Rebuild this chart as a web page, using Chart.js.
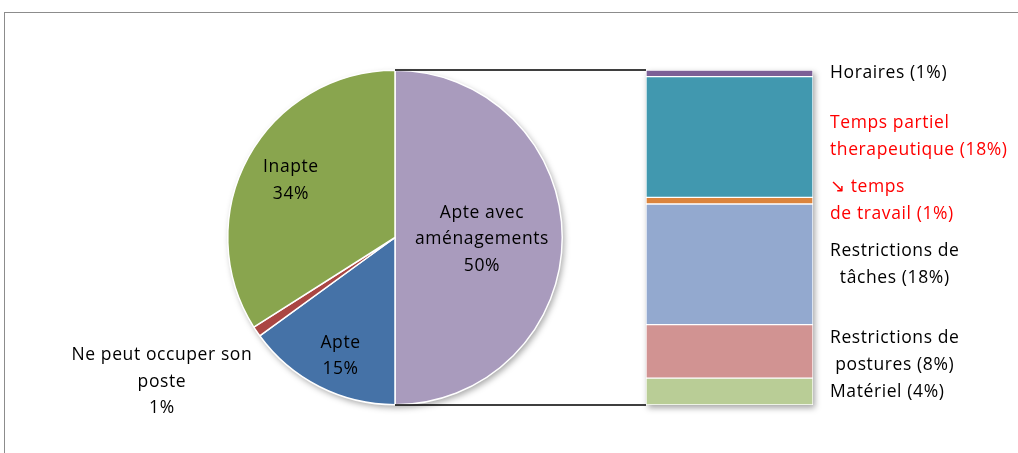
<!DOCTYPE html>
<html>
<head>
<meta charset="utf-8">
<script src="https://cdn.jsdelivr.net/npm/chart.js@4/dist/chart.umd.min.js"></script>
<style>
  html, body { margin: 0; padding: 0; background: #fff; overflow: hidden; }
  #wrap { position: relative; width: 1018px; height: 453px; overflow: hidden; }
  #frame { position: absolute; left: 4px; top: 12px; width: 1100px; height: 600px; border: 1px solid #8c8c8c; }
  canvas { position: absolute; left: 0; top: 0; }
</style>
</head>
<body>
<div id="wrap">
  <div id="frame"></div>
  <canvas id="pie" width="1018" height="453"></canvas>
  <canvas id="bar" width="1018" height="453"></canvas>
</div>
<script>
// Pie data (clockwise from 12 o'clock)
const pieCategories = [["Apte avec", "aménagements"], ["Apte"], ["Ne peut occuper son", "poste"], ["Inapte"]];
const pieValues = [50, 15, 1, 34];
const pieColors = ["#a99bbd", "#4572a7", "#aa4643", "#89a54e"];

// Breakdown of "Apte avec aménagements" (bottom to top)
const barCategories = [["Matériel"], ["Restrictions de", "postures"], ["Restrictions de", "tâches"], ["↘ temps", "de travail"], ["Temps partiel", "therapeutique"], ["Horaires"]];
const barValues = [4, 8, 18, 1, 18, 1];
const barColors = ["#b9cd96", "#d19392", "#93a9cf", "#db843d", "#4198af", "#7b5f96"];

const FONT = "17.5px 'Open Sans', sans-serif";
const SPACING = "0.6px";

// soft drop shadow under a shape
function shadowed(ctx, drawPath) {
  ctx.save();
  ctx.shadowColor = "rgba(0,0,0,0.35)";
  ctx.shadowBlur = 6;
  ctx.shadowOffsetX = 2;
  ctx.shadowOffsetY = 3;
  ctx.fillStyle = "#fff";
  drawPath();
  ctx.fill();
  ctx.restore();
}

const pieLabelPlugin = {
  id: "pieLabels",
  beforeDatasetsDraw(chart) {
    const arc = chart.getDatasetMeta(0).data[0];
    const ctx = chart.ctx;
    shadowed(ctx, () => {
      ctx.beginPath();
      ctx.arc(arc.x, arc.y, arc.outerRadius, 0, Math.PI * 2);
    });
  },
  afterDatasetsDraw(chart, args, opts) {
    const ctx = chart.ctx;
    const meta = chart.getDatasetMeta(0);
    ctx.save();
    ctx.font = FONT;
    ctx.letterSpacing = SPACING;
    ctx.fillStyle = "#000";
    ctx.textAlign = "center";
    ctx.textBaseline = "middle";
    meta.data.forEach((arc, i) => {
      const mid = (arc.startAngle + arc.endAngle) / 2;
      const r = arc.outerRadius * opts.radius[i];
      const x = arc.x + Math.cos(mid) * r + opts.shift[i][0];
      const y = arc.y + Math.sin(mid) * r + opts.shift[i][1];
      const lines = [...pieCategories[i], pieValues[i] + "%"];
      lines.forEach((t, k) => {
        ctx.fillText(t, x, y + (k - (lines.length - 1) / 2) * opts.lineHeight);
      });
    });
    ctx.restore();
  },
};

const pieChart = new Chart(document.getElementById("pie"), {
  type: "pie",
  data: {
    labels: pieCategories.map((l) => l.join(" ")),
    datasets: [{
      data: pieValues,
      backgroundColor: pieColors,
      borderColor: "#fff",
      borderWidth: 1.5,
    }],
  },
  options: {
    responsive: false,
    animation: false,
    layout: { padding: { left: 227, top: 69, right: 455, bottom: 47 } },
    plugins: {
      legend: { display: false },
      tooltip: { enabled: false },
      pieLabels: {
        radius: [0.52, 0.77, 1.62, 0.71],
        shift: [[0, 2], [4, 4], [-9, -8], [0, 0]],
        lineHeight: 26.5,
      },
    },
  },
  plugins: [pieLabelPlugin],
});

const barLabelPlugin = {
  id: "barLabels",
  beforeDatasetsDraw(chart) {
    const a = chart.chartArea;
    const ctx = chart.ctx;
    shadowed(ctx, () => {
      ctx.beginPath();
      ctx.rect(a.left, a.top, a.right - a.left, a.bottom - a.top);
    });
    // connector lines from the pie to the bar
    const arc = pieChart.getDatasetMeta(0).data[0];
    ctx.save();
    ctx.strokeStyle = "#000";
    ctx.lineWidth = 1.5;
    ctx.beginPath();
    ctx.moveTo(arc.x, a.top);
    ctx.lineTo(a.left, a.top);
    ctx.moveTo(arc.x, a.bottom);
    ctx.lineTo(a.left, a.bottom);
    ctx.stroke();
    ctx.restore();
  },
  afterDatasetsDraw(chart, args, opts) {
    const ctx = chart.ctx;
    const yScale = chart.scales.y;
    const x0 = chart.chartArea.right + opts.gap;
    ctx.save();
    ctx.font = FONT;
    ctx.letterSpacing = SPACING;
    ctx.textBaseline = "middle";
    let base = 0;
    barValues.forEach((v, i) => {
      const yc = yScale.getPixelForValue(base + v / 2);
      base += v;
      const lines = barCategories[i].slice();
      lines[lines.length - 1] += " (" + v + "%)";
      const maxW = Math.max(...lines.map((t) => ctx.measureText(t).width));
      ctx.fillStyle = opts.colors[i];
      lines.forEach((t, k) => {
        const y = yc + (k - (lines.length - 1) / 2) * opts.lineHeight;
        if (opts.align[i] === "center") {
          ctx.textAlign = "center";
          ctx.fillText(t, x0 + maxW / 2, y);
        } else {
          ctx.textAlign = "left";
          ctx.fillText(t, x0, y);
        }
      });
    });
    ctx.restore();
  },
};

const barTotal = barValues.reduce((s, v) => s + v, 0);

new Chart(document.getElementById("bar"), {
  type: "bar",
  data: {
    labels: [""],
    datasets: barValues.map((v, i) => ({
      label: barCategories[i].join(" "),
      data: [v],
      backgroundColor: barColors[i],
      borderColor: "#fff",
      borderWidth: 1,
      borderSkipped: false,
      barPercentage: 1,
      categoryPercentage: 1,
    })),
  },
  options: {
    responsive: false,
    animation: false,
    layout: { padding: { left: 646, top: 70, right: 205, bottom: 48 } },
    scales: {
      x: { display: false, stacked: true },
      y: { display: false, stacked: true, min: 0, max: barTotal },
    },
    plugins: {
      legend: { display: false },
      tooltip: { enabled: false },
      barLabels: {
        gap: 17,
        lineHeight: 27,
        colors: ["#000", "#000", "#000", "#ff0000", "#ff0000", "#000"],
        align: ["left", "center", "center", "left", "left", "left"],
      },
    },
  },
  plugins: [barLabelPlugin],
});
</script>
</body>
</html>
